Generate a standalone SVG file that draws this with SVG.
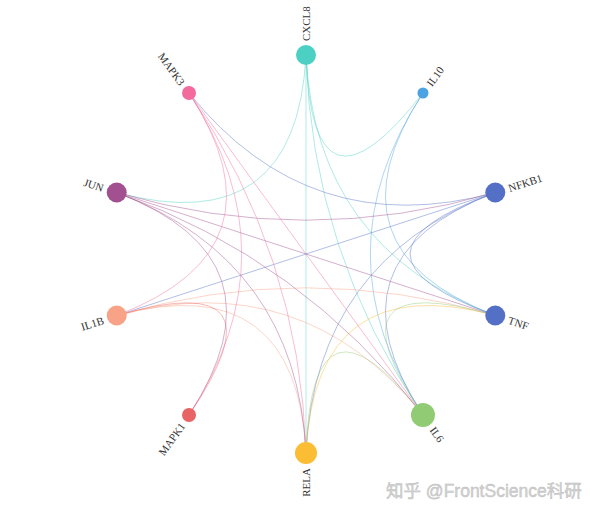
<svg xmlns="http://www.w3.org/2000/svg" width="600" height="513" viewBox="0 0 600 513">
<style>
.e{fill:none;stroke-width:1;stroke-opacity:0.45}
.lbl{font-family:"Liberation Serif","DejaVu Serif",serif;font-size:11px;fill:#333;dominant-baseline:central}
.wm{font-family:"Liberation Sans","Noto Sans CJK SC",sans-serif;font-size:17.5px;fill:#d4d4d4;stroke:#b8b8b8;stroke-width:0.4}
</style>
<rect width="600" height="513" fill="#fff"/>
<g id="edges">
<path class="e" stroke="#4dd0c4" d="M306,55 Q311.85,236 422.97,93.01"/>
<path class="e" stroke="#4dd0c4" d="M306,55 Q315.46,247.12 495.27,315.49"/>
<path class="e" stroke="#4dd0c4" d="M306,55 Q311.85,252.1 422.97,414.99"/>
<path class="e" stroke="#4dd0c4" d="M306,55 L306,453"/>
<path class="e" stroke="#4dd0c4" d="M306,55 Q296.54,240.98 116.73,192.51"/>
<path class="e" stroke="#4ba3e3" d="M422.97,93.01 Q321.31,249.03 495.27,315.49"/>
<path class="e" stroke="#4ba3e3" d="M422.97,93.01 Q317.7,254 422.97,414.99"/>
<path class="e" stroke="#5470c6" d="M495.27,192.51 Q324.93,254 495.27,315.49"/>
<path class="e" stroke="#5470c6" d="M495.27,192.51 Q321.31,258.98 422.97,414.99"/>
<path class="e" stroke="#5470c6" d="M495.27,192.51 Q315.46,260.88 306,453"/>
<path class="e" stroke="#5470c6" d="M495.27,192.51 L116.73,315.49"/>
<path class="e" stroke="#5470c6" d="M495.27,192.51 Q309.62,242.88 189.03,93.01"/>
<path class="e" stroke="#a2508f" d="M116.73,192.51 Q306,247.85 495.27,192.51"/>
<path class="e" stroke="#fbbd33" d="M306,453 Q315.46,267.02 495.27,315.49"/>
<path class="e" stroke="#f8a287" d="M116.73,315.49 Q306,260.15 495.27,315.49"/>
<path class="e" stroke="#a2508f" d="M116.73,192.51 L495.27,315.49"/>
<path class="e" stroke="#91cc75" d="M422.97,414.99 Q321.31,265.12 495.27,315.49"/>
<path class="e" stroke="#91cc75" d="M422.97,414.99 Q311.85,272 306,453"/>
<path class="e" stroke="#f8a287" d="M116.73,315.49 Q302.39,265.12 422.97,414.99"/>
<path class="e" stroke="#a2508f" d="M116.73,192.51 Q302.39,258.98 422.97,414.99"/>
<path class="e" stroke="#f26b9c" d="M189.03,93.01 L422.97,414.99"/>
<path class="e" stroke="#f8a287" d="M116.73,315.49 Q296.54,267.02 306,453"/>
<path class="e" stroke="#a2508f" d="M116.73,192.51 Q296.54,260.88 306,453"/>
<path class="e" stroke="#f26b9c" d="M189.03,93.01 Q300.15,255.9 306,453"/>
<path class="e" stroke="#e86363" d="M189.03,414.99 Q290.69,265.12 116.73,315.49"/>
<path class="e" stroke="#a2508f" d="M116.73,192.51 Q290.69,258.98 189.03,414.99"/>
<path class="e" stroke="#f26b9c" d="M189.03,93.01 Q294.3,254 189.03,414.99"/>
<path class="e" stroke="#f26b9c" d="M189.03,93.01 Q290.69,249.03 116.73,315.49"/>
</g>
<g id="node-CXCL8"><circle cx="306" cy="55" r="10" fill="#4dd0c4"/><text class="lbl" transform="translate(306,41) rotate(-90)">CXCL8</text></g>
<g id="node-IL10"><circle cx="422.97" cy="93.01" r="5.5" fill="#4ba3e3"/><text class="lbl" transform="translate(428.8,85) rotate(-54)">IL10</text></g>
<g id="node-NFKB1"><circle cx="495.27" cy="192.51" r="10" fill="#5470c6"/><text class="lbl" transform="translate(508.6,188.2) rotate(-18)">NFKB1</text></g>
<g id="node-TNF"><circle cx="495.27" cy="315.49" r="10" fill="#5470c6"/><text class="lbl" transform="translate(508.6,319.8) rotate(18)">TNF</text></g>
<g id="node-IL6"><circle cx="422.97" cy="414.99" r="12" fill="#91cc75"/><text class="lbl" transform="translate(432.4,428) rotate(54)">IL6</text></g>
<g id="node-RELA"><circle cx="306" cy="453" r="11" fill="#fbbd33"/><text class="lbl" text-anchor="end" transform="translate(306,468) rotate(-90)">RELA</text></g>
<g id="node-MAPK1"><circle cx="189.03" cy="414.99" r="7" fill="#e86363"/><text class="lbl" text-anchor="end" transform="translate(182.6,423.9) rotate(-54)">MAPK1</text></g>
<g id="node-IL1B"><circle cx="116.73" cy="315.49" r="10" fill="#f8a287"/><text class="lbl" text-anchor="end" transform="translate(103.4,319.8) rotate(-18)">IL1B</text></g>
<g id="node-JUN"><circle cx="116.73" cy="192.51" r="10" fill="#a2508f"/><text class="lbl" text-anchor="end" transform="translate(103.4,188.2) rotate(18)">JUN</text></g>
<g id="node-MAPK3"><circle cx="189.03" cy="93.01" r="7" fill="#f26b9c"/><text class="lbl" text-anchor="end" transform="translate(182.6,84.1) rotate(54)">MAPK3</text></g>
<text class="wm" x="386" y="497">知乎 @FrontScience科研</text>
</svg>
